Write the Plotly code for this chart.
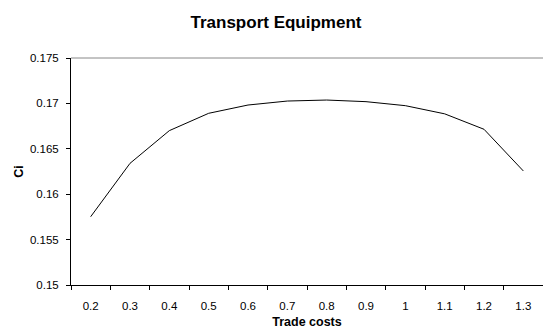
import plotly.graph_objects as go

# Trade costs (categories) and Ci values for transport equipment
trade_costs = ["0.2", "0.3", "0.4", "0.5", "0.6", "0.7", "0.8", "0.9", "1", "1.1", "1.2", "1.3"]
ci_values = [0.15752, 0.1634, 0.1670, 0.16891, 0.16982, 0.17026, 0.17037, 0.17019,
             0.16975, 0.16885, 0.16715, 0.16256]
y_ticks = [0.15, 0.155, 0.16, 0.165, 0.17, 0.175]
y_tick_text = ["0.15", "0.155", "0.16", "0.165", "0.17", "0.175"]

font_family = "Liberation Sans, Arial, sans-serif"

fig = go.Figure()
fig.add_trace(go.Scatter(
    x=trade_costs, y=ci_values, mode="lines",
    line=dict(color="black", width=1), showlegend=False,
    hoverinfo="skip",
))

fig.update_layout(
    width=543, height=329,
    margin=dict(l=71, r=0, t=58, b=44),
    paper_bgcolor="white", plot_bgcolor="white",
    font=dict(family=font_family, size=11, color="black"),
    title=dict(text="<b>Transport Equipment</b>", x=276 / 543, xref="container",
               y=1 - 22 / 329, yanchor="middle", xanchor="center",
               font=dict(size=17, family=font_family, color="black")),
    xaxis=dict(
        type="category", range=[-0.5, len(trade_costs) - 0.5], automargin=False,
        tickson="boundaries", ticks="outside", ticklen=4, tickcolor="black",
        showline=True, linecolor="black", linewidth=1, showgrid=False,
        tickfont=dict(size=11.5), zeroline=False, ticklabelstandoff=10,
        title=dict(text="<b>Trade costs</b>", font=dict(size=12.5), standoff=14),
    ),
    yaxis=dict(
        range=[0.15, 0.175], tickvals=y_ticks, ticktext=y_tick_text, automargin=False,
        ticks="outside", ticklen=4, tickcolor="black",
        showline=True, linecolor="black", linewidth=1, showgrid=False,
        zeroline=False, tickfont=dict(size=11.5), ticklabelstandoff=5,
        title=dict(text="<b>Ci</b>", font=dict(size=12.5), standoff=3),
    ),
)

# gray frame line along the top of the plot area
fig.add_shape(type="line", xref="paper", yref="paper", x0=0, x1=1, y0=1, y1=1,
              line=dict(color="#888888", width=1))

fig.write_html("out.html")
